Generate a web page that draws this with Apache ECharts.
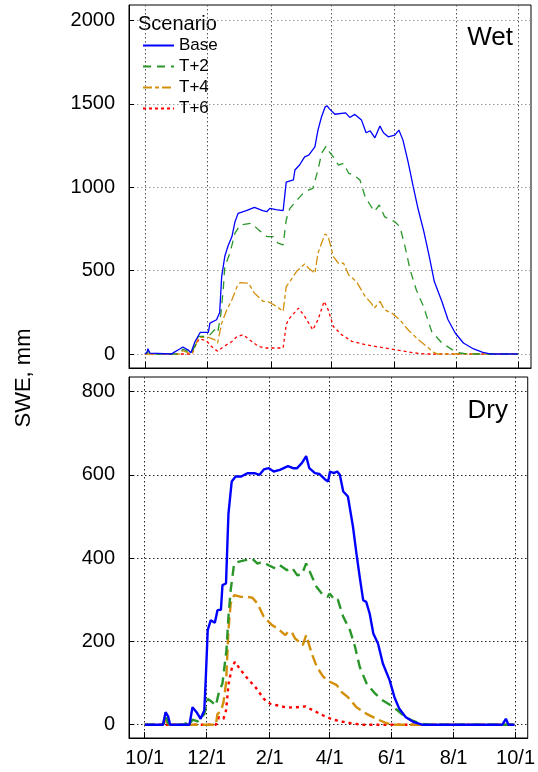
<!DOCTYPE html>
<html>
<head>
<meta charset="utf-8">
<script src="https://cdn.jsdelivr.net/npm/echarts@6/dist/echarts.min.js"></script>
<style>
  html, body { margin: 0; padding: 0; background: #fff; }
  #chart { width: 538px; height: 772px; }
</style>
</head>
<body>
<div id="chart"></div>
<script>
// days since 10/1 for the month gridlines
const monthTicks = [0, 61, 123, 182, 243, 304, 365];
const monthLabels = ['10/1', '12/1', '2/1', '4/1', '6/1', '8/1', '10/1'];
const wetTicks = [0, 500, 1000, 1500, 2000];
const dryTicks = [0, 200, 400, 600, 800];
const scenarios = ['Base', 'T+2', 'T+4', 'T+6'];

// Wet year SWE, mm  [day, value]
const wetBase = [[0,0],[2,10],[3,32],[5,5],[6,0],[26,0],[28,8],[34,30],[37,42],[42,25],[45,8],[49,75],[54,129],[62,129],[63.5,185],[70,205],[73,247],[75,464],[78,584],[81,644],[85,704],[88,793],[91,843],[99,860],[107,879],[115,860],[119,853],[122,873],[128,865],[135,860],[138,1030],[145,1043],[146.5,1103],[151,1133],[156,1182],[160,1192],[166,1242],[169,1342],[172.5,1422],[176,1481],[178,1487],[180,1471],[185.5,1437],[196,1445],[200,1418],[205,1436],[211.5,1402],[216,1326],[220,1338],[224.6,1296],[229.5,1366],[233,1326],[237.6,1302],[244,1312],[248,1342],[252,1282],[257,1152],[262,1003],[267,863],[272,744],[277,604],[282.6,434],[290,315],[296,205],[303,126],[311,66],[321,30],[330,10],[337,0],[364,0]];
const wetT2 = [[0,0],[2,5],[3,20],[5,0],[34,0],[37,30],[42,15],[45,5],[50,60],[52,105],[62,105],[68,145],[71,125],[74,230],[76.5,385],[78,524],[83,604],[88,724],[93,774],[104,783],[111,744],[119,704],[125,704],[130,664],[135,654],[138,803],[141.6,873],[150,933],[156,973],[164,993],[169,1103],[172.5,1202],[177,1246],[180,1212],[184,1182],[189,1132],[194,1143],[199,1083],[204,1073],[210,1043],[215,943],[220,893],[224,853],[229,893],[234,823],[239,807],[244,793],[249,763],[254,644],[259,504],[265,385],[272,285],[280,135],[290,66],[300,26],[308,6],[315,0],[364,0]];
const wetT4 = [[0,0],[34,0],[37,20],[42,8],[46,0],[50,60],[52,100],[62,100],[68,86],[71,66],[75,185],[80,265],[85,325],[90,404],[93,428],[101,425],[107,365],[115.5,315],[120,315],[128.6,285],[135,255],[138,404],[141.6,434],[148,494],[156,540],[160,514],[166,484],[169,604],[172.5,664],[176,720],[179,704],[184,584],[189,544],[194,544],[199,474],[206.6,434],[215,345],[221,305],[224,275],[229.5,315],[234,265],[241,245],[249,205],[257,145],[267,86],[277,36],[282,10],[286,0],[364,0]];
const wetT6 = [[0,0],[46,0],[50,60],[53,90],[60,80],[65,45],[71,16],[77,45],[85,75],[90,105],[96,115],[102,86],[111,45],[118,36],[135,36],[138,175],[140,205],[150,275],[156,225],[164,145],[169,205],[175,315],[179,265],[184,165],[192,116],[202,76],[215,56],[225,45],[234,36],[244,26],[254,16],[264,6],[273,0],[364,0]];

// Dry year SWE, mm  [day, value]
const dryBase = [[0,0],[18,0],[20.5,30],[23,20],[25,0],[44,0],[47,42],[51,30],[55,14],[58.6,34],[60,107],[62,227],[65,251],[69,245],[71.6,275],[75,276],[76.5,335],[80,339],[82.4,507],[85.6,584],[89.5,596],[95,596],[101,604],[108,604],[113,600],[117.2,613],[122,616],[127,608],[133,612],[141,621],[146,616],[150,616],[154.6,628],[158.9,645],[162,616],[167.6,604],[172,602],[177.5,589],[180.5,584],[182.4,608],[186,604],[189.5,608],[192,600],[195.4,560],[200,548],[205,475],[208.4,411],[211.6,355],[215,299],[218,295],[221.4,267],[225,219],[229.6,195],[234.4,147],[241,107],[245.8,66],[250.6,38],[257,18],[265,6],[273,0],[352,0],[355.5,14],[358,0],[364,0]];
const dryT2 = [[0,0],[18,0],[20.5,25],[23,3],[25,0],[38,0],[42,5],[44,0],[47,12],[52,8],[58.6,25],[62,62],[66,55],[70,46],[73,78],[76.5,99],[80.4,179],[82.4,259],[84.6,323],[88,387],[92,391],[99,395],[105.8,399],[111,387],[116,391],[122,383],[128.6,375],[133,383],[140,371],[145,377],[150,359],[154.6,361],[158.9,387],[164,359],[169,331],[175.6,311],[180,307],[182,315],[187,299],[190,301],[195.4,259],[202,227],[207,187],[211.6,139],[218.4,99],[226.6,75],[234.4,58],[242.6,46],[249,34],[255.6,20],[263,10],[273,2],[280,0],[364,0]];
const dryT4 = [[0,0],[18,0],[20.5,12],[23,0],[70,0],[71.6,26],[75,32],[77.5,54],[80,99],[82.4,227],[84.6,291],[88,311],[95,307],[101,307],[105.8,305],[111,291],[117.2,259],[125.3,239],[131,231],[138.3,215],[141,223],[145,221],[148,207],[152,199],[155.6,191],[158.9,215],[164.4,171],[169.3,139],[175.8,115],[182.3,103],[189,95],[194,78],[200,66],[208.4,42],[218.4,26],[228,14],[237.6,4],[243,0],[364,0]];
const dryT6 = [[0,0],[70,0],[73,18],[77.5,14],[80,34],[82.6,99],[86,139],[88.9,151],[94.4,131],[102.6,107],[109,90],[117.2,62],[123.7,50],[131,46],[140,41],[150,42],[158,44],[166,34],[175.8,22],[185.5,12],[195,7],[204,3],[214,0],[364,0]];

const colors = { 'Base': '#0000ff', 'T+2': '#2a962a', 'T+4': '#d38f0a', 'T+6': '#ff0000' };
const wetDash = { 'Base': 'solid', 'T+2': [8, 6], 'T+4': [9, 3, 4, 3], 'T+6': [3, 3] };
const dryDash = { 'Base': 'solid', 'T+2': [10, 6], 'T+4': [11, 5], 'T+6': [3, 4] };

const wetData = { 'Base': wetBase, 'T+2': wetT2, 'T+4': wetT4, 'T+6': wetT6 };
const dryData = { 'Base': dryBase, 'T+2': dryT2, 'T+4': dryT4, 'T+6': dryT6 };

const chart = echarts.init(document.getElementById('chart'), null, { renderer: 'canvas' });

const fontFamily = '"Liberation Sans", Arial, sans-serif';

const makeX = (gridIndex, showLabels) => ({
  type: 'value',
  gridIndex,
  min: -15.5,
  max: 377,
  axisLine: { show: true, onZero: false, lineStyle: { color: '#000', width: 1 } },
  axisTick: { show: true, inside: true, length: 6, customValues: monthTicks, lineStyle: { color: '#000' } },
  axisLabel: {
    show: showLabels,
    customValues: monthTicks,
    color: '#000',
    fontSize: 20,
    fontFamily,
    margin: 10,
    formatter: (v) => monthLabels[monthTicks.indexOf(v)] || '',
  },
  splitLine: { show: true, lineStyle: { color: gridIndex === 0 ? '#555' : '#222', type: [1.5, 2.5], width: 1 } },
});

const makeY = (gridIndex, min, max, ticks) => ({
  type: 'value',
  gridIndex,
  min,
  max,
  axisLine: { show: true, onZero: false, lineStyle: { color: '#000', width: 1 } },
  axisTick: { show: true, inside: true, length: 5, customValues: ticks, lineStyle: { color: '#000' } },
  axisLabel: { customValues: ticks, color: '#000', fontSize: 20, fontFamily, margin: 14, formatter: (v) => String(v) },
  splitLine: { show: true, lineStyle: { color: gridIndex === 0 ? '#999' : '#222', type: [1.5, 2.5], width: 1 } },
});

const series = [];
scenarios.forEach((name) => {
  series.push({
    name,
    type: 'line',
    xAxisIndex: 0,
    yAxisIndex: 0,
    data: wetData[name],
    symbol: 'none',
    z: 10 - scenarios.indexOf(name),
    lineStyle: { color: colors[name], width: 1.3, type: wetDash[name] },
    itemStyle: { color: colors[name] },
  });
});
scenarios.forEach((name) => {
  series.push({
    name,
    type: 'line',
    xAxisIndex: 1,
    yAxisIndex: 1,
    data: dryData[name],
    symbol: 'none',
    z: 10 - scenarios.indexOf(name),
    lineStyle: { color: colors[name], width: 2.4, type: dryDash[name] },
    itemStyle: { color: colors[name] },
  });
});

const option = {
  backgroundColor: '#fff',
  animation: false,
  grid: [
    { left: 129, top: 5, width: 402, height: 363, show: true, borderColor: '#000', borderWidth: 1, containLabel: false },
    { left: 129, top: 377, width: 402, height: 361, show: true, borderColor: '#000', borderWidth: 1, containLabel: false },
  ],
  xAxis: [makeX(0, false), makeX(1, true)],
  yAxis: [makeY(0, -84, 2092, wetTicks), makeY(1, -32, 835, dryTicks)],
  legend: {
    data: scenarios,
    orient: 'vertical',
    left: 137,
    top: 32,
    itemWidth: 31,
    itemHeight: 14,
    itemGap: 4,
    selectedMode: false,
    itemStyle: { opacity: 0 },
    textStyle: { color: '#000', fontSize: 17, fontFamily, lineHeight: 17, padding: [0, 0, 0, 0] },
  },
  graphic: [
    { type: 'text', left: 138, top: 14, style: { text: 'Scenario', fontSize: 20, fontFamily, fill: '#000' } },
    { type: 'text', right: 25, top: 25, style: { text: 'Wet', fontSize: 26, fontFamily, fill: '#000' } },
    { type: 'text', right: 30, top: 398, style: { text: 'Dry', fontSize: 26, fontFamily, fill: '#000' } },
    {
      type: 'text',
      x: 24,
      y: 378,
      rotation: Math.PI / 2,
      style: { text: 'SWE, mm', fontSize: 22, fontFamily, fill: '#000', align: 'center', verticalAlign: 'middle' },
    },
  ],
  series,
};

chart.setOption(option);
</script>
</body>
</html>
